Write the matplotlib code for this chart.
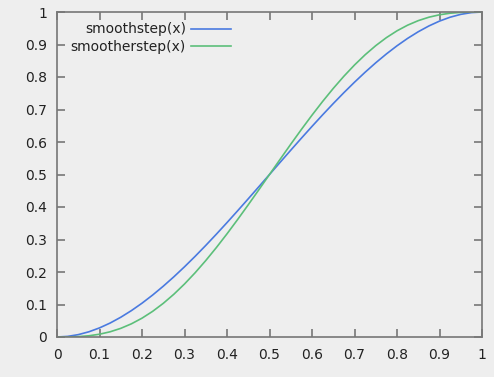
import matplotlib
matplotlib.use("Agg")
import matplotlib.pyplot as plt

x = [0.0, 0.025, 0.05, 0.075, 0.1, 0.125, 0.15, 0.175, 0.2, 0.225, 0.25, 0.275, 0.3, 0.325,
     0.35, 0.375, 0.4, 0.425, 0.45, 0.475, 0.5, 0.525, 0.55, 0.575, 0.6, 0.625, 0.65, 0.675,
     0.7, 0.725, 0.75, 0.775, 0.8, 0.825, 0.85, 0.875, 0.9, 0.925, 0.95, 0.975, 1.0]
smoothstep = [0.0, 0.00184, 0.00725, 0.01603, 0.028, 0.04297, 0.06075, 0.08116, 0.104, 0.12909,
              0.15625, 0.18528, 0.216, 0.24822, 0.28175, 0.31641, 0.352, 0.38834, 0.42525, 0.46253,
              0.5, 0.53747, 0.57475, 0.61166, 0.648, 0.68359, 0.71825, 0.75178, 0.784, 0.81472,
              0.84375, 0.87091, 0.896, 0.91884, 0.93925, 0.95703, 0.972, 0.98397, 0.99275, 0.99816, 1.0]
smootherstep = [0.0, 0.00015, 0.00116, 0.00376, 0.00856, 0.01605, 0.02661, 0.04051, 0.05792, 0.07892,
                0.10352, 0.13162, 0.16308, 0.19769, 0.23517, 0.27521, 0.31744, 0.36147, 0.40687, 0.4532,
                0.5, 0.5468, 0.59313, 0.63853, 0.68256, 0.72479, 0.76483, 0.80231, 0.83692, 0.86838,
                0.89648, 0.92108, 0.94208, 0.95949, 0.97339, 0.98395, 0.99144, 0.99624, 0.99884, 0.99985, 1.0]
ticks = [0, 0.1, 0.2, 0.3, 0.4, 0.5, 0.6, 0.7, 0.8, 0.9, 1]
ticklabels = ["0", "0.1", "0.2", "0.3", "0.4", "0.5", "0.6", "0.7", "0.8", "0.9", "1"]

bg = "#eeeeee"
fig = plt.figure(figsize=(4.94, 3.77), dpi=100, facecolor=bg)
ax = fig.add_axes([57/494, 40/377, 425/494, 325/377])
ax.set_facecolor(bg)

ax.plot(x, smoothstep, color="#4a7ae0", lw=1.2, label="smoothstep(x)")
ax.plot(x, smootherstep, color="#5cbf7a", lw=1.2, label="smootherstep(x)")

ax.set_xlim(0, 1)
ax.set_ylim(0, 1)
ax.set_xticks(ticks)
ax.set_xticklabels(ticklabels)
ax.set_yticks(ticks)
ax.set_yticklabels(ticklabels)
for s in ax.spines.values():
    s.set_color("#777777")
    s.set_linewidth(1.2)
ax.tick_params(direction="in", top=True, right=True, length=6, width=1.2,
               color="#777777", labelsize=10, labelcolor="#222222")
ax.tick_params(axis="x", pad=8)
ax.tick_params(axis="y", pad=7)

leg = ax.legend(loc="upper left", bbox_to_anchor=(0.019, 0.985), markerfirst=False,
                frameon=False, fontsize=10, handlelength=2.9, handletextpad=0.35,
                labelspacing=0.25, borderaxespad=0.0)
for t in leg.get_texts():
    t.set_ha("right")
    t.set_color("#222222")

fig.savefig("out.png", dpi=100, facecolor=bg)
